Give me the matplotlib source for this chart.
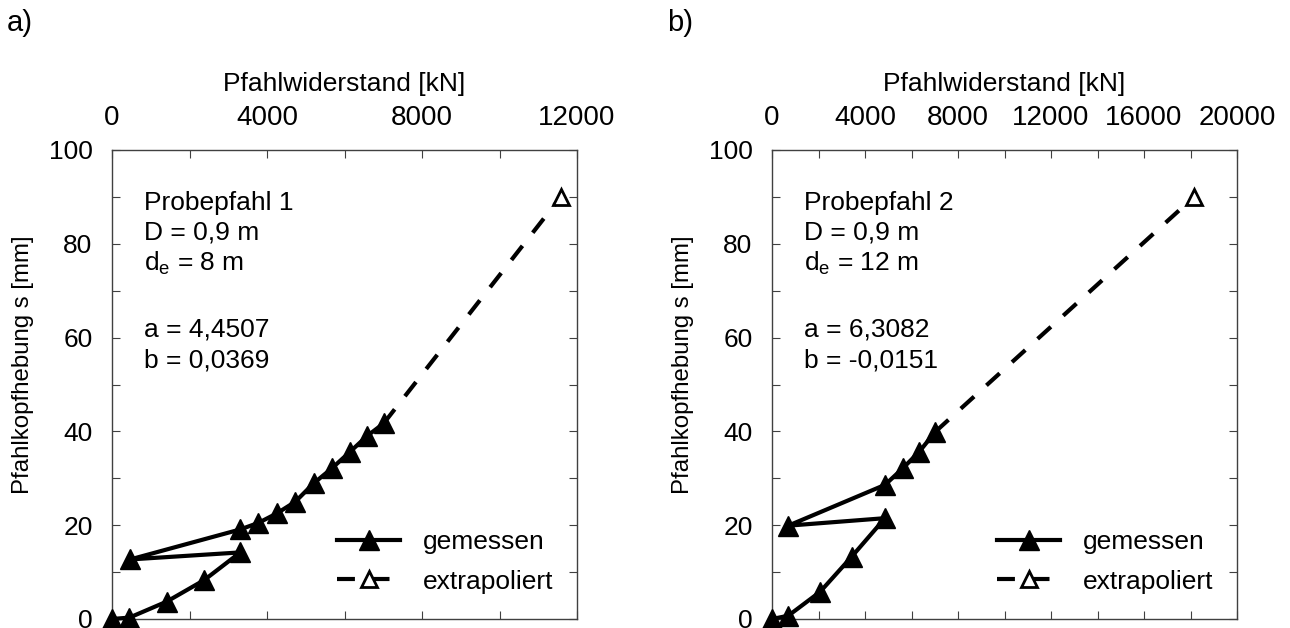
import numpy as np
import matplotlib
matplotlib.use("Agg")
import matplotlib.pyplot as plt

plt.rcParams["font.family"] = ["Liberation Sans", "DejaVu Sans"]
plt.rcParams["mathtext.fontset"] = "custom"
plt.rcParams["mathtext.rm"] = "Liberation Sans"
plt.rcParams["mathtext.it"] = "Liberation Sans"

FS = 19

# Probepfahl 1 – measured load/uplift pairs
load_1 = [0, 450, 1410, 2380, 3310, 470, 3310, 3780, 4250, 4730, 5200, 5670, 6150, 6580, 7010]
uplift_1 = [0, 0.3, 3.7, 8.3, 14.2, 12.7, 19.1, 20.5, 22.5, 25.0, 28.9, 32.1, 35.7, 39.0, 41.7]
extra_load_1 = [7010, 11580]
extra_uplift_1 = [41.7, 90]

# Probepfahl 2 – measured load/uplift pairs
load_2 = [0, 700, 2070, 3430, 4860, 700, 4860, 5620, 6340, 7020]
uplift_2 = [0, 0.7, 5.8, 13.3, 21.5, 19.9, 28.6, 32.1, 35.7, 39.9]
extra_load_2 = [7020, 18150]
extra_uplift_2 = [39.9, 90]

x_max = [12000, 20000]
info_lines = [
    ["Probepfahl 1", "D = 0,9 m", r"d$_\mathrm{e}$ = 8 m", "a = 4,4507", "b = 0,0369"],
    ["Probepfahl 2", "D = 0,9 m", r"d$_\mathrm{e}$ = 12 m", "a = 6,3082", "b = -0,0151"],
]
panel_tags = ["a)", "b)"]

W, H = 1290, 628
fig = plt.figure(figsize=(W / 100, H / 100), dpi=100)

axes_left = [112, 772]
ax_w, ax_top, ax_bot = 465, 150, 619
ax_h = ax_bot - ax_top

datasets = [
    (load_1, uplift_1, extra_load_1, extra_uplift_1),
    (load_2, uplift_2, extra_load_2, extra_uplift_2),
]

spine_col = "#404040"
text_y = [210, 240, 270.7, 336.7, 367.7]

for i, (lx, ly, ex, ey) in enumerate(datasets):
    left = axes_left[i]
    ax = fig.add_axes([left / W, (H - ax_bot) / H, ax_w / W, ax_h / H])
    ax.set_xlim(0, x_max[i])
    ax.set_ylim(0, 100)

    ax.plot(ex, ey, color="black", lw=3, dashes=(4.3, 4.0),
            marker="^", markevery=[1], markersize=11, markerfacecolor="white",
            markeredgecolor="black", markeredgewidth=2, clip_on=False,
            label="extrapoliert", zorder=3)
    ax.plot(lx, ly, color="black", lw=3, marker="^", markersize=14,
            markerfacecolor="black", markeredgecolor="black", markeredgewidth=1,
            clip_on=False, label="gemessen", zorder=4)

    xt = np.arange(0, x_max[i] + 1, 2000)
    ax.set_xticks(xt)
    ax.set_xticklabels([str(v) if v % 4000 == 0 else "" for v in xt])
    yt = np.arange(0, 101, 10)
    ax.set_yticks(yt)
    ax.set_yticklabels([str(v) if v % 20 == 0 else "" for v in yt])

    ax.tick_params(axis="both", which="major", direction="in", length=6,
                   width=0.8, color=spine_col,
                   top=True, bottom=True, left=True, right=True,
                   labeltop=True, labelbottom=False)
    ax.tick_params(axis="x", pad=14, labelsize=20)
    ax.tick_params(axis="y", pad=14, labelsize=FS)
    for sp in ax.spines.values():
        sp.set_color(spine_col)
        sp.set_linewidth(1.0)

    ax.xaxis.set_label_position("top")
    ax.set_xlabel("Pfahlwiderstand [kN]", fontsize=FS, labelpad=10)
    ax.set_ylabel("Pfahlkopfhebung s [mm]", fontsize=17.3)
    ax.yaxis.set_label_coords((34 - 112) / ax_w, (ax_bot - 365) / ax_h)

    for line, yb in zip(info_lines[i], text_y):
        ax.text((144 - 112) / ax_w, (ax_bot - yb) / ax_h, line,
                transform=ax.transAxes, fontsize=FS, va="baseline", ha="left")

    handles, labels = ax.get_legend_handles_labels()
    ax.legend(handles[::-1], labels[::-1], loc="lower left",
              bbox_to_anchor=((337 - 112) / ax_w, 0.054), frameon=False,
              fontsize=FS, handlelength=2.4, handletextpad=0.85,
              labelspacing=0.6, borderpad=0, borderaxespad=0, numpoints=1)

    fig.text((7 + 660 * i) / W, 1 - 31 / H, panel_tags[i], fontsize=21,
             va="baseline", ha="left")

fig.savefig("out.png", dpi=100, facecolor="white")
